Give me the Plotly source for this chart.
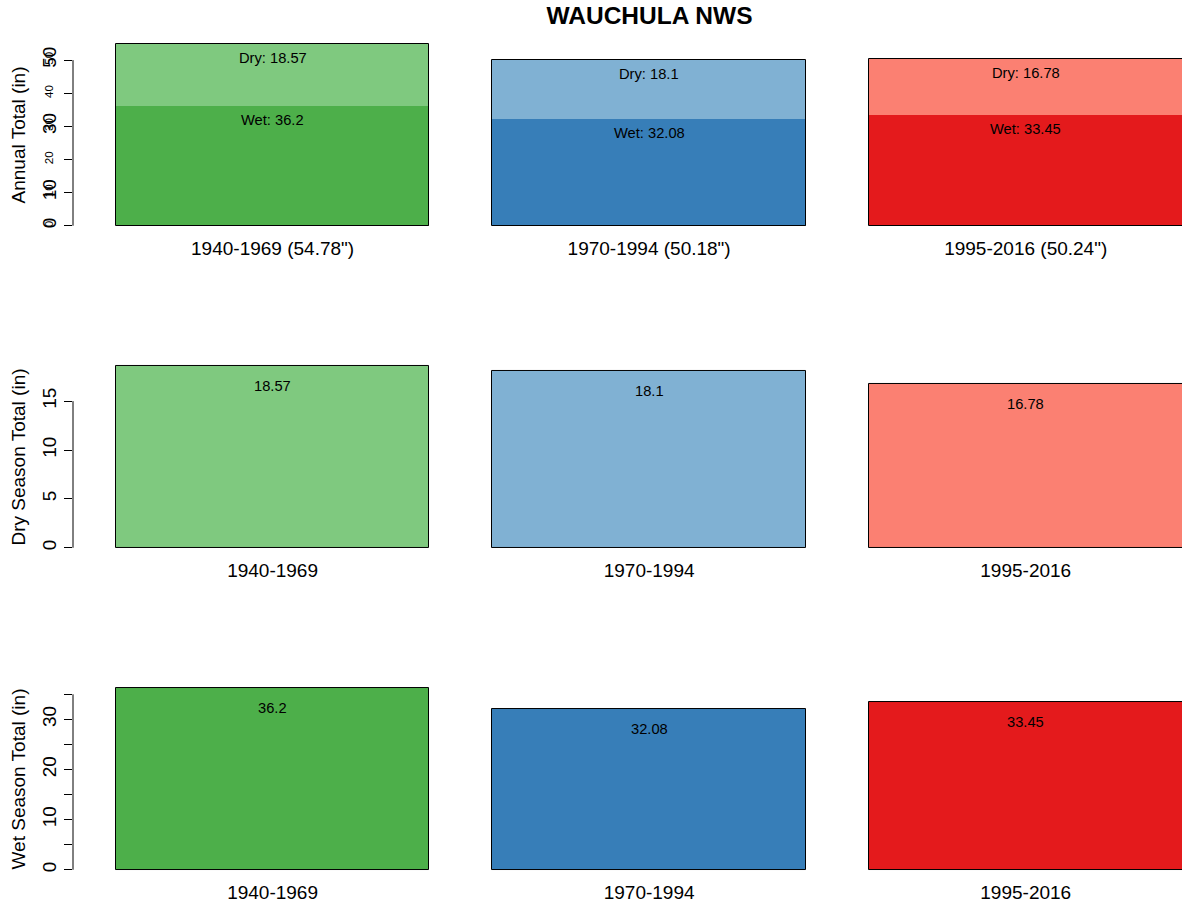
import plotly.graph_objects as go

# --- data (inches) ---
periods = ["1940-1969", "1970-1994", "1995-2016"]
dry = [18.57, 18.1, 16.78]
wet = [36.2, 32.08, 33.45]
total = [54.78, 50.18, 50.24]

dry_colors = ["#7FC97F", "#80B1D3", "#FB8072"]
wet_colors = ["#4DAF4A", "#377EB8", "#E41A1C"]

annual_ticks = [0, 10, 20, 30, 40, 50]
dry_ticks = [0, 5, 10, 15]
wet_ticks = [0, 5, 10, 15, 20, 25, 30, 35]

# bar layout like R barplot(space=0.2); right side is cut off like the original
xc = [0.7 + 1.2 * i for i in range(len(periods))]
BW = 1.0
XR = [0.064, 3.598]

FONT = "Liberation Sans, Arial, sans-serif"
outline = dict(color="black", width=1)

fig = go.Figure()

# row 1: stacked annual bars (dry on top of wet)
fig.add_trace(go.Bar(x=xc, y=total, width=BW, marker=dict(color=dry_colors, line=dict(width=0)),
                     xaxis="x", yaxis="y", showlegend=False, hoverinfo="skip"))
fig.add_trace(go.Bar(x=xc, y=wet, width=BW, marker=dict(color=wet_colors, line=dict(width=0)),
                     xaxis="x", yaxis="y", showlegend=False))
fig.add_trace(go.Bar(x=xc, y=total, width=BW, marker=dict(color="rgba(0,0,0,0)", line=outline),
                     xaxis="x", yaxis="y", showlegend=False))
# invisible trace so the small-label overlay axis gets drawn
fig.add_trace(go.Scatter(x=xc, y=total, mode="markers", marker=dict(opacity=0),
                         xaxis="x", yaxis="y4", showlegend=False, hoverinfo="skip"))
# row 2: dry season
fig.add_trace(go.Bar(x=xc, y=dry, width=BW, marker=dict(color=dry_colors, line=outline),
                     xaxis="x2", yaxis="y2", showlegend=False))
# row 3: wet season
fig.add_trace(go.Bar(x=xc, y=wet, width=BW, marker=dict(color=wet_colors, line=outline),
                     xaxis="x3", yaxis="y3", showlegend=False))

ann = []
for i in range(len(periods)):
    ann.append(dict(x=xc[i], y=total[i], xref="x", yref="y", yshift=-14,
                    text=f"Dry: {dry[i]}", showarrow=False))
    ann.append(dict(x=xc[i], y=wet[i], xref="x", yref="y", yshift=-14,
                    text=f"Wet: {wet[i]}", showarrow=False))
    ann.append(dict(x=xc[i], y=dry[i], xref="x2", yref="y2", yshift=-20,
                    text=f"{dry[i]}", showarrow=False))
    ann.append(dict(x=xc[i], y=wet[i], xref="x3", yref="y3", yshift=-20,
                    text=f"{wet[i]}", showarrow=False))
for a in ann:
    a["font"] = dict(size=14.7, color="black", family=FONT)


def rng(vals):
    m = max(vals)
    return [-0.04 * m, 1.04 * m]


def xax(anchor, labels):
    return dict(anchor=anchor, range=XR, showgrid=False, zeroline=False, showline=False,
                tickvals=xc, ticktext=labels, ticks="", ticklabelstandoff=2,
                tickfont=dict(size=19, color="black"), fixedrange=True)


def yax(anchor, dom, r, ticks, text, title):
    return dict(anchor=anchor, domain=dom, range=r, showgrid=False, zeroline=False,
                showline=False, tickvals=ticks, ticktext=text, ticks="outside", ticklen=8,
                tickcolor="black", tickangle=-90, tickfont=dict(size=19, color="black"),
                title=dict(text=title, font=dict(size=19, color="black"), standoff=8),
                automargin=False)


annual_text = [str(t) if t in (0, 10, 30, 50) else "" for t in annual_ticks]
wet_text = [str(t) if t % 10 == 0 else "" for t in wet_ticks]

lines = []
for ax, ticks in (("", annual_ticks), ("2", dry_ticks), ("3", wet_ticks)):
    lines.append(dict(type="line", xref=f"x{ax} domain", yref=f"y{ax}", x0=0, x1=0,
                      y0=ticks[0], y1=ticks[-1], line=dict(color="black", width=1)))

fig.update_layout(
    width=1182, height=907,
    margin=dict(l=73, r=0, t=37, b=30),
    paper_bgcolor="white", plot_bgcolor="white",
    font=dict(family=FONT, color="black"),
    barmode="overlay", bargap=0,
    # original R figure was wider than the crop, so the title sits right of centre
    title=dict(text="<b>WAUCHULA NWS</b>", x=649.5 / 1182, xref="container", xanchor="center",
               y=1 - 15 / 907, yref="container", yanchor="middle",
               font=dict(size=24.5, color="black")),
    xaxis=xax("y", [f'{p} ({t}")' for p, t in zip(periods, total)]),
    xaxis2=xax("y2", periods),
    xaxis3=xax("y3", periods),
    yaxis=yax("x", [0.7667, 1.0], rng(total), annual_ticks, annual_text, "Annual Total (in)"),
    yaxis2=yax("x2", [0.3833, 0.6167], rng(dry), dry_ticks, [str(t) for t in dry_ticks],
               "Dry Season Total (in)"),
    yaxis3=yax("x3", [0.0, 0.2333], rng(wet), wet_ticks, wet_text, "Wet Season Total (in)"),
    # small-font duplicate labels on the annual axis
    yaxis4=dict(overlaying="y", anchor="x", side="left", range=rng(total), showgrid=False,
                zeroline=False, showline=False, tickvals=annual_ticks, ticks="", tickangle=-90,
                ticklabelstandoff=17, tickfont=dict(size=11.7, color="black"), automargin=False),
    annotations=ann,
    shapes=lines,
)

# drop the default 8px body margin so the figure sits at the page corner
fig.write_html("out.html", config={"displayModeBar": False},
               post_script="document.body.style.margin='0';")
